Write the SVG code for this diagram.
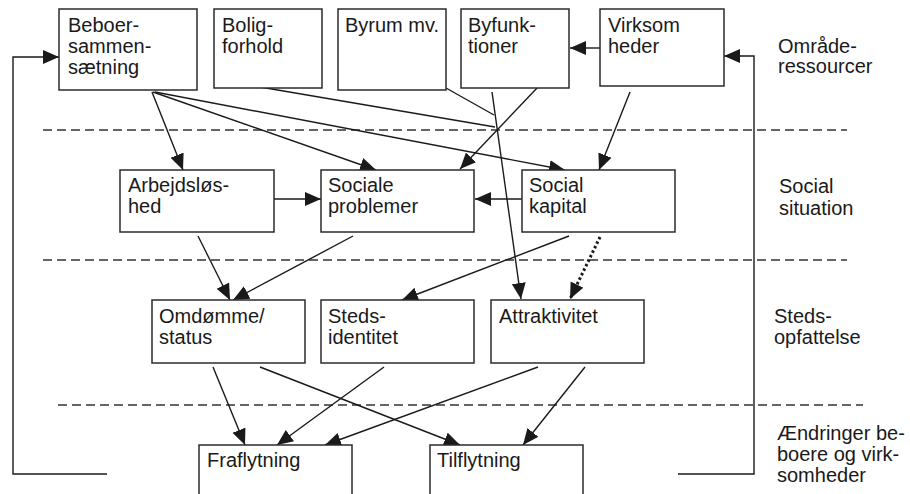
<svg xmlns="http://www.w3.org/2000/svg" width="910" height="494" viewBox="0 0 910 494">
<style>
.box{fill:#fff;stroke:#2b2b2b;stroke-width:1.5}
.t{font-family:"Liberation Sans",Arial,sans-serif;font-size:20px;fill:#1a1a1a}
.c{stroke:#1a1a1a;stroke-width:1.4;fill:none}
.a{marker-end:url(#ah)}
.dash{stroke:#333;stroke-width:1.3;stroke-dasharray:9,5;fill:none}
.dot{stroke:#1a1a1a;stroke-width:3;stroke-dasharray:2.5,2.5;fill:none}
</style>
<defs>
<marker id="ah" markerUnits="userSpaceOnUse" markerWidth="17" markerHeight="15" refX="16" refY="7" orient="auto">
<path d="M0,0 L16,7 L0,14 z" fill="#1a1a1a"/>
</marker>
</defs>
<rect width="910" height="494" fill="#fff"/>
<g id="separators">
<line class="dash" x1="43" y1="130" x2="847" y2="130"/>
<line class="dash" x1="43" y1="260" x2="847" y2="260"/>
<line class="dash" x1="58" y1="405" x2="863" y2="405"/>
</g>
<g id="connectors">
<polyline class="c a" points="107,474 13,474 13,57 59,57"/>
<polyline class="c a" points="678,474 754,474 754,56 724,56"/>
<line class="c a" x1="600" y1="48" x2="570" y2="48"/>
<line class="c a" x1="152" y1="92" x2="183" y2="170"/>
<line class="c a" x1="153" y1="92" x2="376" y2="170"/>
<line class="c a" x1="155" y1="92" x2="565" y2="170"/>
<line class="c" x1="260" y1="87" x2="495" y2="127"/>
<line class="c" x1="446" y1="88" x2="494" y2="115"/>
<line class="c a" x1="492" y1="92" x2="521" y2="299"/>
<line class="c a" x1="538" y1="87" x2="460" y2="169"/>
<line class="c a" x1="630" y1="92" x2="599" y2="170"/>
<line class="c a" x1="274" y1="199" x2="321" y2="199"/>
<line class="c a" x1="522" y1="199" x2="475" y2="199"/>
<line class="c a" x1="198" y1="236" x2="230" y2="300"/>
<line class="c a" x1="353" y1="236" x2="233" y2="300"/>
<line class="c a" x1="569" y1="236" x2="402" y2="300"/>
<line class="dot a" x1="600" y1="237" x2="570" y2="299"/>
<line class="c a" x1="213" y1="367" x2="245" y2="445"/>
<line class="c a" x1="260" y1="367" x2="460" y2="445"/>
<line class="c a" x1="384" y1="367" x2="277" y2="445"/>
<line class="c a" x1="538" y1="367" x2="325" y2="445"/>
<line class="c a" x1="585" y1="367" x2="523" y2="445"/>
</g>
<g id="beboer"><rect class="box" x="59" y="9" width="138" height="81"/><text class="t" x="68" y="32">Beboer-</text><text class="t" x="68" y="53">sammen-</text><text class="t" x="68" y="74">sætning</text></g>
<g id="bolig"><rect class="box" x="214" y="9" width="108" height="79"/><text class="t" x="222" y="32">Bolig-</text><text class="t" x="222" y="53">forhold</text></g>
<g id="byrum"><rect class="box" x="338" y="9" width="108" height="81"/><text class="t" x="345" y="32">Byrum mv.</text></g>
<g id="byfunk"><rect class="box" x="461" y="9" width="108" height="79"/><text class="t" x="468" y="32">Byfunk-</text><text class="t" x="468" y="53">tioner</text></g>
<g id="virksom"><rect class="box" x="600" y="9" width="124" height="77"/><text class="t" x="608" y="32">Virksom</text><text class="t" x="608" y="53">heder</text></g>
<g id="arbejds"><rect class="box" x="120" y="170" width="154" height="62"/><text class="t" x="128" y="192">Arbejdsløs-</text><text class="t" x="128" y="213">hed</text></g>
<g id="sociale"><rect class="box" x="321" y="170" width="153" height="62"/><text class="t" x="328" y="192">Sociale</text><text class="t" x="328" y="213">problemer</text></g>
<g id="kapital"><rect class="box" x="522" y="170" width="153" height="62"/><text class="t" x="529" y="192">Social</text><text class="t" x="529" y="213">kapital</text></g>
<g id="omdomme"><rect class="box" x="152" y="300" width="153" height="63"/><text class="t" x="159" y="323">Omdømme/</text><text class="t" x="159" y="344">status</text></g>
<g id="steds"><rect class="box" x="321" y="300" width="153" height="63"/><text class="t" x="328" y="323">Steds-</text><text class="t" x="328" y="344">identitet</text></g>
<g id="attrak"><rect class="box" x="491" y="300" width="153" height="63"/><text class="t" x="499" y="323">Attraktivitet</text></g>
<g id="fraflyt"><rect class="box" x="199" y="445" width="153" height="70"/><text class="t" x="207" y="467">Fraflytning</text></g>
<g id="tilflyt"><rect class="box" x="430" y="445" width="153" height="70"/><text class="t" x="437" y="467">Tilflytning</text></g>
<g id="labels">
<text class="t" x="778" y="53">Område-</text><text class="t" x="778" y="73">ressourcer</text>
<text class="t" x="779" y="193">Social</text><text class="t" x="779" y="215">situation</text>
<text class="t" x="774" y="323">Steds-</text><text class="t" x="774" y="344">opfattelse</text>
<text class="t" x="777" y="440">Ændringer be-</text><text class="t" x="777" y="461">boere og virk-</text><text class="t" x="777" y="482">somheder</text>
</g>
</svg>
